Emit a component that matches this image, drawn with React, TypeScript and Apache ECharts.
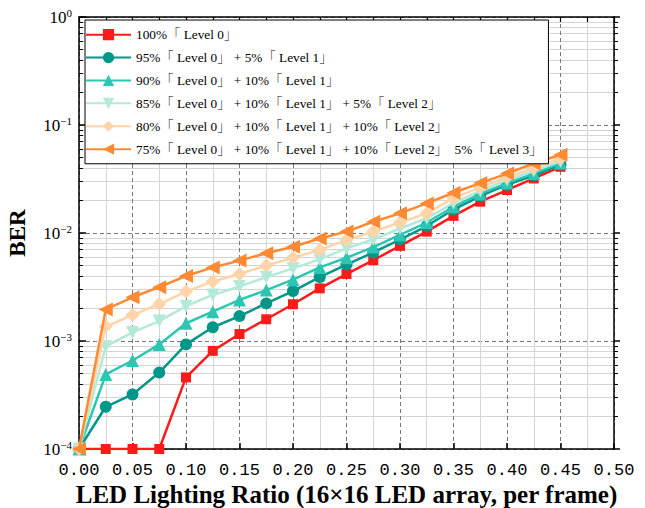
import React, { useEffect, useRef } from 'react';
import * as echarts from 'echarts';

// ---- data ----
const xValues = [0, 0.025, 0.05, 0.075, 0.1, 0.125, 0.15, 0.175, 0.2, 0.225, 0.25, 0.275, 0.3, 0.325, 0.35, 0.375, 0.4, 0.425, 0.45];

const seriesNames = [
  '100%「 Level 0」',
  '95%「 Level 0」 + 5%「 Level 1」',
  '90%「 Level 0」 + 10%「 Level 1」',
  '85%「 Level 0」 + 10%「 Level 1」 + 5%「 Level 2」',
  '80%「 Level 0」 + 10%「 Level 1」 + 10%「 Level 2」',
  '75%「 Level 0」 + 10%「 Level 1」 + 10%「 Level 2」  5%「 Level 3」',
];

const ber100 = [1e-4, 1e-4, 1e-4, 1e-4, 4.6e-4, 8.1e-4, 1.16e-3, 1.59e-3, 2.19e-3, 3.07e-3, 4.17e-3, 5.6e-3, 7.6e-3, 1.03e-2, 1.44e-2, 1.95e-2, 2.5e-2, 3.2e-2, 4.1e-2];
const ber95 = [1e-4, 2.46e-4, 3.2e-4, 5.1e-4, 9.3e-4, 1.34e-3, 1.7e-3, 2.23e-3, 2.9e-3, 3.9e-3, 5.1e-3, 6.6e-3, 8.7e-3, 1.16e-2, 1.65e-2, 2.2e-2, 2.8e-2, 3.4e-2, 4.3e-2];
const ber90 = [1e-4, 4.9e-4, 6.6e-4, 9.3e-4, 1.46e-3, 1.87e-3, 2.4e-3, 2.96e-3, 3.7e-3, 4.8e-3, 5.9e-3, 7.4e-3, 9.6e-3, 1.25e-2, 1.75e-2, 2.3e-2, 2.9e-2, 3.55e-2, 4.45e-2];
const ber85 = [1e-4, 8.9e-4, 1.2e-3, 1.53e-3, 2.1e-3, 2.67e-3, 3.2e-3, 3.9e-3, 4.7e-3, 5.7e-3, 7.2e-3, 8.7e-3, 1.1e-2, 1.37e-2, 1.9e-2, 2.45e-2, 3.1e-2, 3.75e-2, 4.6e-2];
const ber80 = [1e-4, 1.36e-3, 1.74e-3, 2.2e-3, 2.87e-3, 3.56e-3, 4.17e-3, 5.0e-3, 5.9e-3, 6.97e-3, 8.6e-3, 1.03e-2, 1.25e-2, 1.52e-2, 2.1e-2, 2.65e-2, 3.3e-2, 4.0e-2, 4.9e-2];
const ber75 = [1e-4, 1.96e-3, 2.54e-3, 3.15e-3, 4.0e-3, 4.8e-3, 5.55e-3, 6.5e-3, 7.47e-3, 8.9e-3, 1.03e-2, 1.27e-2, 1.52e-2, 1.88e-2, 2.36e-2, 2.9e-2, 3.55e-2, 4.4e-2, 5.3e-2];

const allSeries = [ber100, ber95, ber90, ber85, ber80, ber75];

const xAxisName = 'LED Lighting Ratio (16×16 LED array, per frame)';
const yAxisName = 'BER';

// ---- styles ----
const colors = ['#FF1A1A', '#009688', '#2CC6B2', '#B3E9D8', '#FFD4A8', '#FF8A33'];
const symbols = ['rect', 'circle', 'triangle', 'triangle', 'diamond', 'triangle'];
const rotations = [0, 0, 0, 180, 0, 90];
const sizes = [10, 12, 13, 13, 14, 14];

const serif = 'Liberation Serif, Noto Serif CJK SC, Noto Sans CJK SC, serif';
const mono = 'Liberation Mono, monospace';

export default function App() {
  const ref = useRef<HTMLDivElement>(null);

  useEffect(() => {
    if (!ref.current) return;
    const chart = echarts.init(ref.current, null, { renderer: 'svg' });

    const series = allSeries.map((vals, i) => ({
      name: seriesNames[i],
      type: 'line',
      xAxisIndex: 0,
      yAxisIndex: 0,
      data: xValues.map((x, j) => [x, vals[j]]),
      symbol: symbols[i],
      symbolSize: sizes[i],
      symbolRotate: rotations[i],
      showAllSymbol: true,
      lineStyle: { color: colors[i], width: 2.5 },
      itemStyle: { color: colors[i] },
      clip: true,
      z: 3 + i,
    }));

    const option: any = {
      animation: false,
      backgroundColor: '#fff',
      grid: { left: 79, right: 31, top: 17, bottom: 59, outerBoundsMode: 'none', containLabel: false },
      legend: {
        orient: 'vertical',
        left: 85,
        top: 20,
        itemWidth: 45,
        itemHeight: 14,
        itemGap: 9.6,
        padding: [8, 6, 8, 0],
        backgroundColor: '#fff',
        borderColor: '#000',
        borderWidth: 1,
        textStyle: { fontFamily: serif, fontSize: 13.3, color: '#000' },
        data: seriesNames,
        z: 20,
      },
      xAxis: [
        {
          type: 'value',
          min: 0,
          max: 0.5,
          interval: 0.05,
          position: 'bottom',
          name: xAxisName,
          nameLocation: 'middle',
          nameGap: 32,
          nameMoveOverlap: false,
          nameTextStyle: { fontFamily: serif, fontWeight: 'bold', fontSize: 25, color: '#000', lineHeight: 26 },
          axisLine: { show: true, onZero: false, lineStyle: { color: '#000', width: 1.5 } },
          axisTick: { show: true, inside: true, length: 6, lineStyle: { color: '#000', width: 1.5 } },
          axisLabel: {
            margin: 13,
            fontFamily: mono,
            fontSize: 17,
            color: '#000',
            formatter: (v: number) => v.toFixed(2),
          },
          splitLine: { show: true, lineStyle: { color: '#777', type: [4, 3], width: 1 } },
          minorTick: { show: false, splitNumber: 2 },
          minorSplitLine: { show: true, lineStyle: { color: '#d4d4d4', width: 1 } },
        },
        {
          type: 'value',
          min: 0,
          max: 0.5,
          interval: 0.025,
          position: 'top',
          axisLine: { show: true, onZero: false, lineStyle: { color: '#000', width: 1.5 } },
          axisTick: { show: true, inside: true, length: 5, lineStyle: { color: '#000', width: 1.2 } },
          axisLabel: { show: false },
          splitLine: { show: false },
        },
      ],
      yAxis: [
        {
          type: 'log',
          logBase: 10,
          min: 1e-4,
          max: 1,
          position: 'left',
          name: yAxisName,
          nameLocation: 'middle',
          nameGap: 50,
          nameTextStyle: { fontFamily: serif, fontWeight: 'bold', fontSize: 23, color: '#000' },
          axisLine: { show: true, onZero: false, lineStyle: { color: '#000', width: 1.5 } },
          axisTick: { show: true, inside: true, length: 7, lineStyle: { color: '#000', width: 1.5 } },
          minorTick: { show: true, splitNumber: 9, length: 4, lineStyle: { color: '#000', width: 1 } },
          axisLabel: {
            margin: 7,
            color: '#000',
            fontSize: 16,
            fontFamily: serif,
            formatter: (v: number) => {
              const e = Math.round(Math.log10(v));
              const s = e < 0 ? '−' + -e : String(e);
              return `{b|10}{s|${s}}`;
            },
            rich: {
              b: { fontFamily: serif, fontSize: 17, color: '#000', lineHeight: 20, verticalAlign: 'middle' },
              s: { fontFamily: serif, fontSize: 11, color: '#000', lineHeight: 11, verticalAlign: 'top' },
            },
          },
          splitLine: { show: true, lineStyle: { color: '#777', type: [4, 3], width: 1 } },
          minorSplitLine: { show: true, lineStyle: { color: '#d4d4d4', width: 1 } },
        },
        {
          type: 'log',
          logBase: 10,
          min: 1e-4,
          max: 1,
          position: 'right',
          axisLine: { show: true, onZero: false, lineStyle: { color: '#000', width: 1.5 } },
          axisTick: { show: true, inside: false, length: 6, lineStyle: { color: '#000', width: 1.5 } },
          minorTick: { show: true, splitNumber: 9, length: 4, lineStyle: { color: '#000', width: 1 } },
          axisLabel: { show: false },
          splitLine: { show: false },
        },
      ],
      series,
    };

    chart.setOption(option);
    return () => chart.dispose();
  }, []);

  return (
    <div
      ref={ref}
      style={{ position: 'fixed', left: 0, top: 0, width: 645, height: 508 }}
    />
  );
}
